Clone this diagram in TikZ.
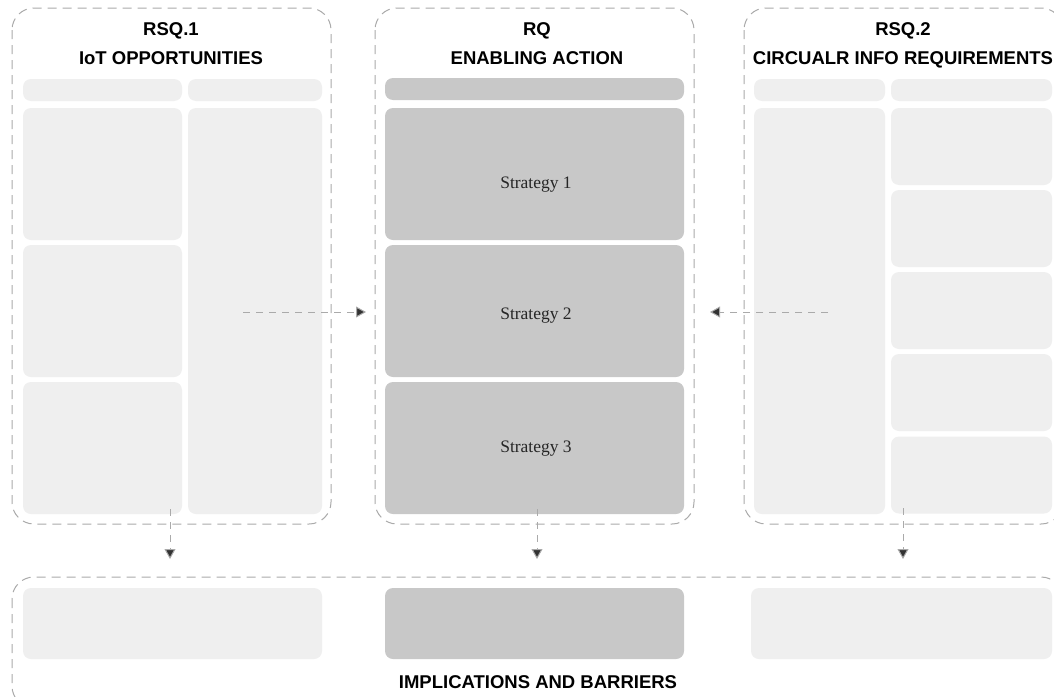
\documentclass[tikz,border=0pt]{standalone}
\usepackage{fontspec}
\setmainfont{Liberation Serif}
\setsansfont{Liberation Sans}
\usetikzlibrary{arrows.meta}
\definecolor{lightbox}{HTML}{EFEFEF}
\definecolor{darkbox}{HTML}{C8C8C8}
\definecolor{dashgrey}{HTML}{AAAAAA}
\definecolor{tipgrey}{HTML}{333333}
\tikzset{
  group/.style={draw=dashgrey, line width=1pt, dash pattern=on 9pt off 6pt, rounded corners=22pt},
  cell/.style={draw=none, rounded corners=8pt, inner sep=0pt, outer sep=0pt},
  lcell/.style={cell, fill=lightbox},
  dcell/.style={cell, fill=darkbox},
  title/.style={font=\sffamily\bfseries\fontsize{18.5}{20}\selectfont, text=black, align=center, anchor=base, inner sep=0pt},
  strat/.style={font=\fontsize{17.5}{20}\selectfont, text=black!85, anchor=base, inner sep=0pt},
  conn/.style={draw=dashgrey, line width=1pt, dash pattern=on 7pt off 6pt, -{Triangle[length=10pt,width=11pt,fill=tipgrey]}, shorten >=0pt}
}
\begin{document}
\begin{tikzpicture}[x=1pt,y=-1pt]
\useasboundingbox (0,0) rectangle (1054,696);
\fill[white] (0,0) rectangle (1054,696);

% group frames
\draw[group] (12,8) rectangle (331,524);
\draw[group] (375,8) rectangle (694,524);
\draw[group] (744,8) rectangle (1063,524);
\draw[group] (12,577) rectangle (1063,708);

% titles
\node[title] (t1a) at (171,35.5) {RSQ.1};
\node[title] (t1b) at (171,64.5) {IoT OPPORTUNITIES};
\node[title] (t2a) at (537,35.5) {RQ};
\node[title] (t2b) at (537,64.5) {ENABLING ACTION};
\node[title] (t3a) at (903,35.5) {RSQ.2};
\node[title] (t3b) at (903,64.5) {CIRCUALR INFO REQUIREMENTS};

% left group cells
\node[lcell, minimum width=159pt, minimum height=22pt] (lh1) at (102.5,90) {};
\node[lcell, minimum width=134pt, minimum height=22pt] (lh2) at (255,90) {};
\node[lcell, minimum width=159pt, minimum height=132pt] (la) at (102.5,174) {};
\node[lcell, minimum width=159pt, minimum height=132pt] (lb) at (102.5,311) {};
\node[lcell, minimum width=159pt, minimum height=132pt] (lc) at (102.5,448) {};
\node[lcell, minimum width=134pt, minimum height=406pt] (lr) at (255,311) {};

% middle group cells
\node[dcell, minimum width=299pt, minimum height=22pt] (mh) at (534.5,89) {};
\node[dcell, minimum width=299pt, minimum height=132pt] (s1) at (534.5,174) {};
\node[dcell, minimum width=299pt, minimum height=132pt] (s2) at (534.5,311) {};
\node[dcell, minimum width=299pt, minimum height=132pt] (s3) at (534.5,448) {};
\node[strat] (s1t) at (536,188) {Strategy 1};
\node[strat] (s2t) at (536,319) {Strategy 2};
\node[strat] (s3t) at (536,452) {Strategy 3};

% right group cells
\node[lcell, minimum width=131pt, minimum height=22pt] (rh1) at (819.5,90) {};
\node[lcell, minimum width=161pt, minimum height=22pt] (rh2) at (971.5,90) {};
\node[lcell, minimum width=131pt, minimum height=406pt] (rl) at (819.5,311) {};
\node[lcell, minimum width=161pt, minimum height=77pt] (ra) at (971.5,146.5) {};
\node[lcell, minimum width=161pt, minimum height=77pt] (rb) at (971.5,228.5) {};
\node[lcell, minimum width=161pt, minimum height=77pt] (rc) at (971.5,310.5) {};
\node[lcell, minimum width=161pt, minimum height=77pt] (rd) at (971.5,392.5) {};
\node[lcell, minimum width=161pt, minimum height=77pt] (re) at (971.5,475) {};

% bottom group cells
\node[lcell, minimum width=299pt, minimum height=71pt] (bl) at (172.5,623.5) {};
\node[dcell, minimum width=299pt, minimum height=71pt] (bm) at (534.5,623.5) {};
\node[lcell, minimum width=301pt, minimum height=71pt] (br) at (901.5,623.5) {};
\node[title] (bt) at (538,688) {IMPLICATIONS AND BARRIERS};

% connector coordinates
\coordinate (a1s) at (243,312);
\coordinate (a1e) at (366,312);
\coordinate (a2s) at (828,312);
\coordinate (a2e) at (710,312);
\coordinate (v1s) at (170,509);
\coordinate (v1e) at (170,559);
\coordinate (v2s) at (537,509);
\coordinate (v2e) at (537,559);
\coordinate (v3s) at (903,508);
\coordinate (v3e) at (903,559);

\draw[conn] (a1s) -- (a1e);
\draw[conn] (a2s) -- (a2e);
\draw[conn] (v1s) -- (v1e);
\draw[conn] (v2s) -- (v2e);
\draw[conn] (v3s) -- (v3e);
\end{tikzpicture}
\end{document}
